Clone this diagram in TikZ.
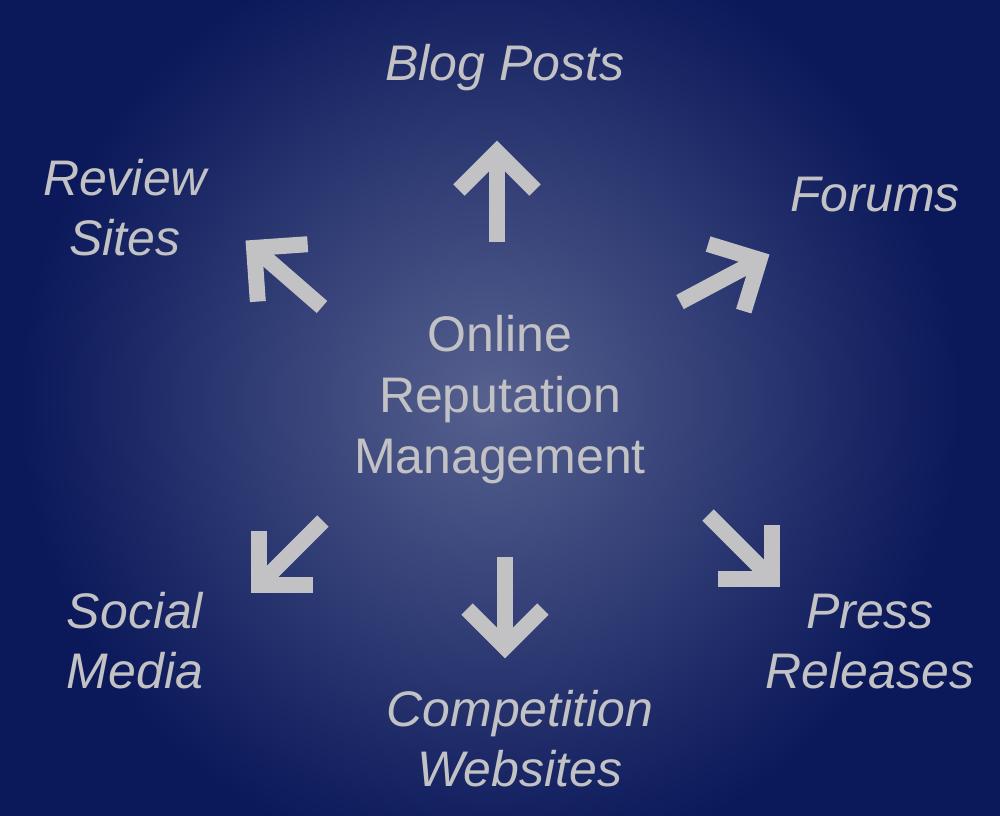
\documentclass[tikz,border=0pt]{standalone}
\usepackage{fontspec}
\setmainfont{Liberation Sans}
\definecolor{navy}{HTML}{0B185A}
\definecolor{glow}{HTML}{56618F}
\definecolor{lg}{HTML}{C2C2C4}
\tikzset{
  lbl/.style={text=lg,font=\fontsize{50}{60}\selectfont\itshape,align=center,inner sep=0},
  ctr/.style={text=lg,font=\fontsize{50}{61}\selectfont,align=center,inner sep=0},
  pics/bigarrow/.style={code={
    \draw[lg,line width=16pt,line join=miter,miter limit=10] (0,0)--(88,0);
    \draw[lg,line width=16pt,line join=miter,miter limit=10] (52,-38)--(90,0)--(52,38);
  }}
}
\begin{document}
\begin{tikzpicture}[x=1pt,y=-1pt]
\useasboundingbox (0,0) rectangle (1000,815);
\clip (0,0) rectangle (1000,815);
\fill[navy] (-10,-10) rectangle (1010,825);
\shade[inner color=glow,outer color=navy] (490,400) circle[radius=470];
\pic[rotate=90] (aup) at (497,242) {bigarrow};
\pic[rotate=28] (afo) at (680,302) {bigarrow};
\pic[rotate=-45] (apr) at (708,515) {bigarrow};
\pic[rotate=-90] (adn) at (505,557) {bigarrow};
\pic[rotate=-135] (aso) at (323,521) {bigarrow};
\pic[rotate=139] (are) at (322,307) {bigarrow};
\node[ctr] (c) at (500,400) {Online\\Reputation\\Management};
\node[lbl] (blog) at (505,68) {Blog Posts};
\node[lbl] (rev) at (125,208) {Review\\Sites};
\node[lbl] (for) at (875,195) {Forums};
\node[lbl] (pre) at (870,642) {Press\\Releases};
\node[lbl] (com) at (520,739) {Competition\\Websites};
\node[lbl] (soc) at (135,641) {Social\\Media};
\end{tikzpicture}
\end{document}
